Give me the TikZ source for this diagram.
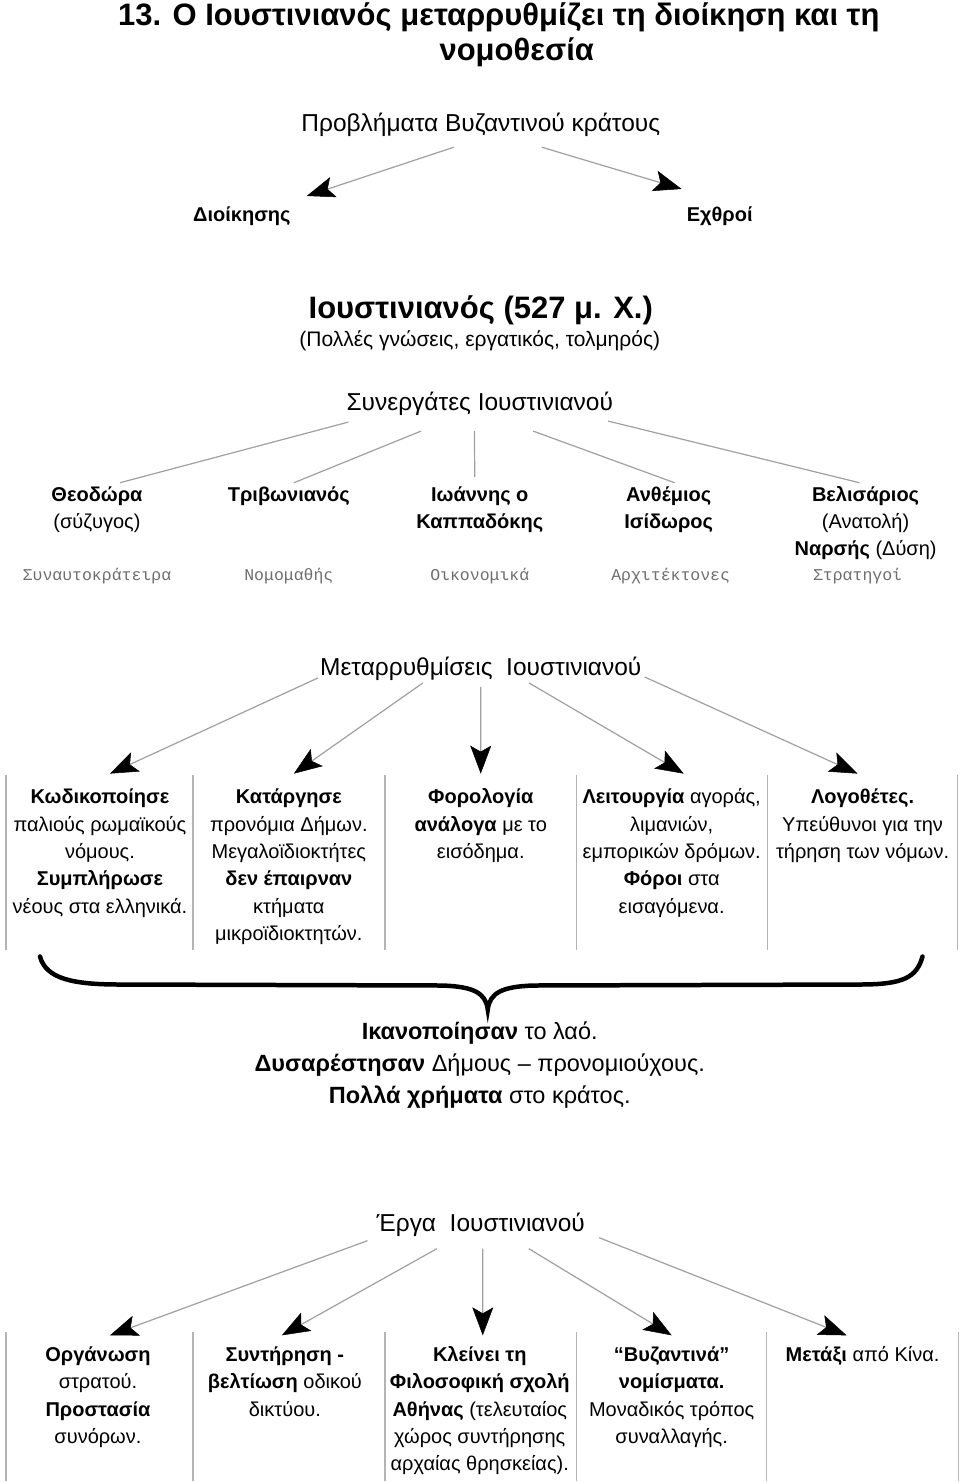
\documentclass[tikz,border=0pt]{standalone}
\usepackage{fontspec}
\setmainfont{Liberation Sans}
\newfontfamily\notefont{Liberation Mono}
\usetikzlibrary{arrows.meta,calc}
\definecolor{linkgray}{RGB}{160,160,160}
\definecolor{sepgray}{RGB}{180,180,180}
\definecolor{notegray}{RGB}{110,110,110}

\begin{document}
\begin{tikzpicture}
  [x=1pt, y=-1pt,
    link/.style={%
      color=linkgray, line width=1.2pt
    },
    arrowlink/.style={%
      link, -{Stealth[length=28pt,width=21pt,inset=6pt,color=black,fill=black,line width=0.5pt]}
    },
    sep/.style={%
      draw=sepgray, line width=1.5pt
    },
    title/.style={%
      anchor=base, inner sep=0, font=\bfseries\fontsize{31}{35}\selectfont
    },
    head/.style={%
      anchor=base, inner sep=0, font=\fontsize{24.5}{30}\selectfont
    },
    sub/.style={%
      anchor=base, inner sep=0, font=\fontsize{21}{25}\selectfont
    },
    branch/.style={%
      anchor=base, inner sep=0, font=\bfseries\fontsize{20}{24}\selectfont
    },
    person/.style={%
      anchor=north, align=center, inner sep=0,
      font=\fontsize{20}{27}\selectfont
    },
    note/.style={%
      anchor=base, inner sep=0, text=notegray,
      font=\notefont\fontsize{16.5}{20}\selectfont
    },
    cell/.style={%
      anchor=north, align=center, inner xsep=0, inner ysep=11pt,
      font=\fontsize{20}{27.3}\selectfont
    },
    brace/.style={%
      draw=black, line width=4.5pt, line cap=round
    },
  ]

  \path[fill=white] (0,0) rectangle (960,1482);

  % title
  \node[title] (tl1) at (499,26) {13. Ο Ιουστινιανός μεταρρυθμίζει τη διοίκηση και τη};
  \node[title] (tl2) at (517,61) {νομοθεσία};

  % problems of the state
  \node[head] (prob) at (481,132) {Προβλήματα Βυζαντινού κράτους};
  \node[branch] (dio) at (242,222) {Διοίκησης};
  \node[branch] (ech) at (720,222) {Εχθροί};

  \path[arrowlink]
  ($(prob.south west)!.425!(prob.south east)+(0,10)$) edge ([shift={(16,-11)}]dio.north east)
  ($(prob.south west)!.67!(prob.south east)+(0,10)$) edge ([shift={(-5,-18)}]ech.north west);

  % Justinian
  \node[title] (ius) at (481,319) {Ιουστινιανός (527 μ. Χ.)};
  \node[sub] (trait) at (480,347) {(Πολλές γνώσεις, εργατικός, τολμηρός)};

  % his people
  \node[head] (syn) at (480,411) {Συνεργάτες Ιουστινιανού};

  \node[person] (p1) at (97,483) {\strut\textbf{Θεοδώρα}\\(σύζυγος)};
  \node[person] (p2) at (289,483) {\strut\textbf{Τριβωνιανός}};
  \node[person] (p3) at (480,483) {\strut\textbf{Ιωάννης ο}\\\textbf{Καππαδόκης}};
  \node[person] (p4) at (669,483) {\strut\textbf{Ανθέμιος}\\\textbf{Ισίδωρος}};
  \node[person] (p5) at (866,483) {\strut\textbf{Βελισάριος}\\(Ανατολή)\\\textbf{Ναρσής} (Δύση)};

  \node[note] (r1) at (97,581) {Συναυτοκράτειρα};
  \node[note] (r2) at (289,581) {Νομομαθής};
  \node[note] (r3) at (480,581) {Οικονομικά};
  \node[note] (r4) at (671,581) {Αρχιτέκτονες};
  \node[note] (r5) at (858,581) {Στρατηγοί};

  \path[link]
  ($(syn.south west)+(2,6)$) edge ([xshift=23pt]p1.north)
  ($(syn.south west)!.28!(syn.south east)+(0,15)$) edge ([xshift=5pt]p2.north)
  ($(syn.south west)!.48!(syn.south east)+(0,15)$) edge ([shift={(-5,-6)}]p3.north)
  ($(syn.south west)!.70!(syn.south east)+(0,15)$) edge ([xshift=6pt]p4.north)
  ($(syn.south east)+(-5,5)$) edge ([xshift=-6pt]p5.north);

  % reforms
  \node[head] (ref) at (481,676) {Μεταρρυθμίσεις\ \ Ιουστινιανού};

  \node[cell] (c1) at (100,774) {\strut\textbf{Κωδικοποίησε}\\παλιούς ρωμαϊκούς\\νόμους.\\\textbf{Συμπλήρωσε}\\νέους στα ελληνικά.};
  \node[cell] (c2) at (289,774) {\strut\textbf{Κατάργησε}\\προνόμια Δήμων.\\Μεγαλοϊδιοκτήτες\\\textbf{δεν έπαιρναν}\\κτήματα\\μικροϊδιοκτητών.};
  \node[cell] (c3) at (481,774) {\strut\textbf{Φορολογία}\\\textbf{ανάλογα} με το\\εισόδημα.};
  \node[cell] (c4) at (672,774) {\strut\textbf{Λειτουργία} αγοράς,\\λιμανιών,\\εμπορικών δρόμων.\\\textbf{Φόροι} στα\\εισαγόμενα.};
  \node[cell] (c5) at (863,774) {\strut\textbf{Λογοθέτες.}\\Υπεύθυνοι για την\\τήρηση των νόμων.};

  \path[arrowlink]
  ($(ref.south west)+(-2,-3)$) edge ([xshift=10pt]c1.north)
  ($(ref.south west)!.32!(ref.south east)+(0,2)$) edge ([xshift=5pt]c2.north)
  ($(ref.south west)!.5!(ref.south east)+(0,6)$) edge (c3.north)
  ($(ref.south west)!.65!(ref.south east)+(0,2)$) edge ([xshift=12pt]c4.north)
  ($(ref.south east)+(3,-4)$) edge ([xshift=-5pt]c5.north);

  \foreach \sx in {6,193,385,577,768,958}
    \draw[sep] (\sx,775) -- (\sx,950);

  % brace and results
  \draw[brace] (40,957) .. controls (46,979) and (72,985) .. (120,985)
    -- (442,986) .. controls (473,987) and (486,993) .. (488,1010)
    .. controls (490,993) and (503,987) .. (534,986)
    -- (860,985) .. controls (904,985) and (917,978) .. (923,957);

  \node[anchor=north, align=center, inner sep=0, font=\fontsize{23.5}{32}\selectfont] (res) at (480,1017.6)
    {\strut\textbf{Ικανοποίησαν} το λαό.\\\textbf{Δυσαρέστησαν} Δήμους – προνομιούχους.\\\textbf{Πολλά χρήματα} στο κράτος.};

  % works
  \node[head] (erg) at (481,1232) {Έργα\ \ Ιουστινιανού};

  \node[cell, inner ysep=7pt] (w1) at (98,1336) {\strut\textbf{Οργάνωση}\\στρατού.\\\textbf{Προστασία}\\συνόρων.};
  \node[cell, inner ysep=7pt] (w2) at (285,1336) {\strut\textbf{Συντήρηση -}\\\textbf{βελτίωση} οδικού\\δικτύου.};
  \node[cell, inner ysep=7pt] (w3) at (480,1336) {\strut\textbf{Κλείνει τη}\\\textbf{Φιλοσοφική σχολή}\\\textbf{Αθήνας} (τελευταίος\\χώρος συντήρησης\\αρχαίας θρησκείας).};
  \node[cell, inner ysep=7pt] (w4) at (672,1336) {\strut\textbf{“Βυζαντινά”}\\\textbf{νομίσματα.}\\Μοναδικός τρόπος\\συναλλαγής.};
  \node[cell, inner ysep=7pt] (w5) at (863,1336) {\strut\textbf{Μετάξι} από Κίνα.};

  \path[arrowlink]
  ($(erg.south west)+(-9,4)$) edge ([xshift=12pt]w1.north)
  ($(erg.south west)!.29!(erg.south east)+(0,12)$) edge ([xshift=-3pt]w2.north)
  ($(erg.south west)!.51!(erg.south east)+(0,12)$) edge ([xshift=3pt]w3.north)
  ($(erg.south west)!.73!(erg.south east)+(0,12)$) edge (w4.north)
  ($(erg.south east)+(14,1)$) edge ([xshift=-16pt]w5.north);

  \foreach \sx in {6,193,385,577,767,959}
    \draw[sep] (\sx,1333) -- (\sx,1482);

\end{tikzpicture}
\end{document}
